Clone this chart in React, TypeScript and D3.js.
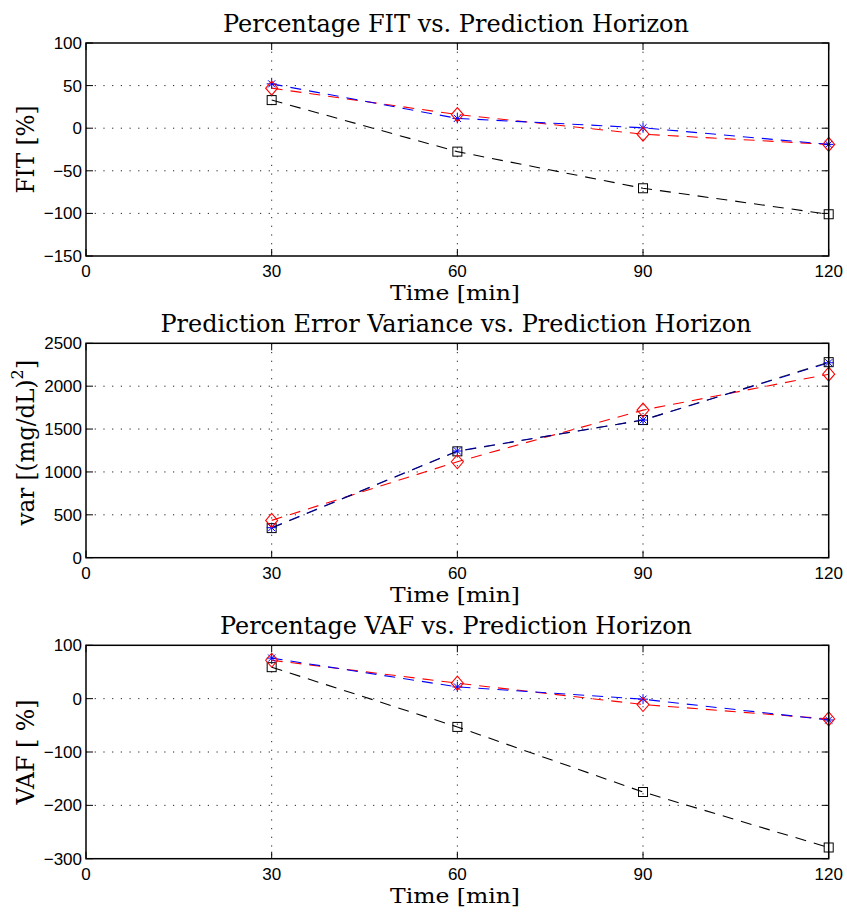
import React, { useEffect, useRef } from "react";
import * as d3 from "d3";

const timePoints = [30, 60, 90, 120];
const xTicks = [0, 30, 60, 90, 120];

const fitBlue = [52, 11.5, 0.5, -19];
const fitRed = [47, 16, -7, -19];
const fitBlack = [33, -27.5, -70.5, -101];

const varBlue = [350, 1244, 1605, 2273];
const varRed = [435, 1119, 1721, 2140];
const varBlack = [345, 1240, 1605, 2280];

const vafBlue = [76, 22, -1, -40];
const vafRed = [72, 29, -11, -38];
const vafBlack = [59, -53, -175, -279];

const fitTicks = [-150, -100, -50, 0, 50, 100];
const varTicks = [0, 500, 1000, 1500, 2000, 2500];
const vafTicks = [-300, -200, -100, 0, 100];

const titles = [
  "Percentage FIT vs. Prediction Horizon",
  "Prediction Error Variance vs. Prediction Horizon",
  "Percentage VAF vs. Prediction Horizon",
];

const W = 847;
const H = 913;
const LEFT = 86;
const RIGHT = 828.7;

interface PanelSpec {
  top: number;
  bottom: number;
  domain: [number, number];
  ticks: number[];
  title: string;
  titleWidth: number;
  ylabel: string;
  ylabelWidth: number;
  sup?: boolean;
  blue: number[];
  red: number[];
  black: number[];
  blackOver: boolean;
}

const panels: PanelSpec[] = [
  { top: 43, bottom: 256, domain: [-150, 100], ticks: fitTicks, title: titles[0], titleWidth: 466, ylabel: "FIT [%]", ylabelWidth: 88, blue: fitBlue, red: fitRed, black: fitBlack, blackOver: false },
  { top: 343.3, bottom: 557.7, domain: [0, 2500], ticks: varTicks, title: titles[1], titleWidth: 591, ylabel: "var [(mg/dL)", ylabelWidth: 146, sup: true, blue: varBlue, red: varRed, black: varBlack, blackOver: true },
  { top: 645.3, bottom: 858.7, domain: [-300, 100], ticks: vafTicks, title: titles[2], titleWidth: 472, ylabel: "VAF [ %]", ylabelWidth: 105, blue: vafBlue, red: vafRed, black: vafBlack, blackOver: false },
];

const fmt = (v: number) => (v < 0 ? "\u2212" + Math.abs(v) : String(v));

export default function App() {
  const ref = useRef<SVGSVGElement>(null);
  useEffect(() => {
    const svg = d3.select(ref.current);
    svg.selectAll("*").remove();
    svg.append("rect").attr("width", W).attr("height", H).attr("fill", "white");
    const x = d3.scaleLinear().domain([0, 120]).range([LEFT, RIGHT]);

    panels.forEach((p) => {
      const y = d3.scaleLinear().domain(p.domain).range([p.bottom, p.top]);
      const g = svg.append("g");
      // grid
      xTicks.forEach((t) => {
        if (t === 0 || t === 120) return;
        g.append("line").attr("x1", x(t)).attr("x2", x(t)).attr("y1", p.top).attr("y2", p.bottom)
          .attr("stroke", "#222").attr("stroke-width", 1).attr("stroke-dasharray", "1.2,7.5");
      });
      p.ticks.forEach((t) => {
        if (t === p.domain[0] || t === p.domain[1]) return;
        g.append("line").attr("x1", LEFT).attr("x2", RIGHT).attr("y1", y(t)).attr("y2", y(t))
          .attr("stroke", "#222").attr("stroke-width", 1).attr("stroke-dasharray", "1.2,7.5");
      });
      // tick marks inside
      const tl = 7;
      xTicks.forEach((t) => {
        g.append("line").attr("x1", x(t)).attr("x2", x(t)).attr("y1", p.bottom).attr("y2", p.bottom - tl).attr("stroke", "black").attr("stroke-width", 1);
        g.append("line").attr("x1", x(t)).attr("x2", x(t)).attr("y1", p.top).attr("y2", p.top + tl).attr("stroke", "black").attr("stroke-width", 1);
      });
      p.ticks.forEach((t) => {
        g.append("line").attr("x1", LEFT).attr("x2", LEFT + tl).attr("y1", y(t)).attr("y2", y(t)).attr("stroke", "black").attr("stroke-width", 1);
        g.append("line").attr("x1", RIGHT).attr("x2", RIGHT - tl).attr("y1", y(t)).attr("y2", y(t)).attr("stroke", "black").attr("stroke-width", 1);
      });
      // tick labels
      xTicks.forEach((t) => {
        g.append("text").attr("x", x(t)).attr("y", p.bottom + 21).attr("text-anchor", "middle")
          .attr("font-family", "Liberation Sans, Arial, sans-serif").attr("font-size", 17).text(String(t));
      });
      p.ticks.forEach((t) => {
        g.append("text").attr("x", LEFT - 4).attr("y", y(t) + 6).attr("text-anchor", "end")
          .attr("font-family", "Liberation Sans, Arial, sans-serif").attr("font-size", 17).text(fmt(t));
      });

      // lines
      const line = d3.line<number>().x((_, i) => x(timePoints[i])).y((d) => y(d));
      const drawLine = (data: number[], color: string, op = 1) =>
        g.append("path").attr("d", line(data)).attr("fill", "none").attr("stroke", color)
          .attr("stroke-width", 1.1).attr("stroke-dasharray", "11,8").attr("opacity", op);
      if (p.blackOver) {
        drawLine(p.red, "red");
        drawLine(p.blue, "blue");
        drawLine(p.black, "#000033", 0.8);
      } else {
        drawLine(p.black, "black");
        drawLine(p.red, "red");
        drawLine(p.blue, "blue");
      }

      // markers
      const sq = 4.5;
      p.black.forEach((v, i) => {
        g.append("rect").attr("x", x(timePoints[i]) - sq).attr("y", y(v) - sq).attr("width", 2 * sq).attr("height", 2 * sq)
          .attr("fill", "none").attr("stroke", "black").attr("stroke-width", 1);
      });
      p.blue.forEach((v, i) => {
        const cx = x(timePoints[i]);
        const cy = y(v);
        const r = 5;
        const d = r * 0.72;
        const path = `M${cx - r},${cy}L${cx + r},${cy}M${cx},${cy - r}L${cx},${cy + r}M${cx - d},${cy - d}L${cx + d},${cy + d}M${cx - d},${cy + d}L${cx + d},${cy - d}`;
        g.append("path").attr("d", path).attr("stroke", "blue").attr("stroke-width", 1).attr("fill", "none");
      });
      p.red.forEach((v, i) => {
        const cx = x(timePoints[i]);
        const cy = y(v);
        const rx = 6;
        const ry = 7;
        g.append("path").attr("d", `M${cx},${cy - ry}L${cx + rx},${cy}L${cx},${cy + ry}L${cx - rx},${cy}Z`)
          .attr("fill", "none").attr("stroke", "red").attr("stroke-width", 1.1);
      });

      // box
      g.append("rect").attr("x", LEFT).attr("y", p.top).attr("width", RIGHT - LEFT).attr("height", p.bottom - p.top)
        .attr("fill", "none").attr("stroke", "black").attr("stroke-width", 1.5);

      // title
      g.append("text").attr("x", 456).attr("y", p.top - 11).attr("text-anchor", "middle")
        .attr("font-family", "DejaVu Serif, serif").attr("font-size", 24)
        .attr("textLength", p.titleWidth).attr("lengthAdjust", "spacingAndGlyphs").text(p.title);
      // x label
      g.append("text").attr("x", 455).attr("y", p.bottom + 44).attr("text-anchor", "middle")
        .attr("font-family", "DejaVu Serif, serif").attr("font-size", 21)
        .attr("textLength", 130).attr("lengthAdjust", "spacingAndGlyphs").text("Time [min]");
      // y label
      const cy = (p.top + p.bottom) / 2;
      if (p.sup) {
        const t = g.append("text").attr("transform", `translate(34,${cy - 8}) rotate(-90)`).attr("text-anchor", "middle")
          .attr("font-family", "DejaVu Serif, serif").attr("font-size", 25);
        t.append("tspan").text(p.ylabel).attr("textLength", p.ylabelWidth).attr("lengthAdjust", "spacingAndGlyphs");
        t.append("tspan").attr("dy", -11).attr("font-size", 16).text("2");
        t.append("tspan").attr("dy", 11).text("]");
      } else {
        g.append("text").attr("transform", `translate(34,${cy}) rotate(-90)`).attr("text-anchor", "middle")
          .attr("font-family", "DejaVu Serif, serif").attr("font-size", 25)
          .attr("textLength", p.ylabelWidth).attr("lengthAdjust", "spacingAndGlyphs").text(p.ylabel);
      }
    });
  }, []);
  return (
    <svg ref={ref} width={W} height={H} style={{ position: "absolute", left: 0, top: 0, display: "block" }} />
  );
}
